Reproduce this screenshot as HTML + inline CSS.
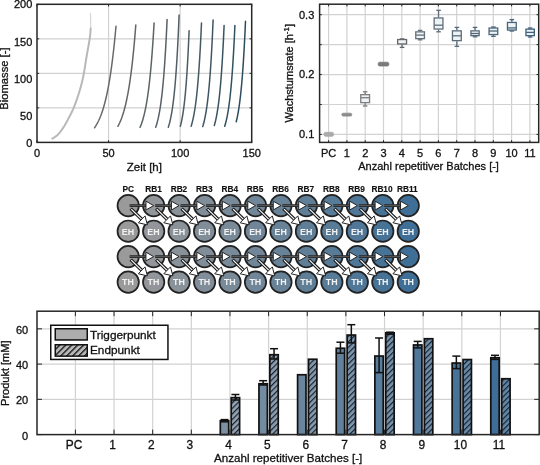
<!DOCTYPE html>
<html><head><meta charset="utf-8"><style>
html,body{margin:0;padding:0;background:#fff;}
svg{display:block;font-family:"Liberation Sans", sans-serif;filter:blur(0.3px);}
</style></head><body>
<svg width="540" height="465" viewBox="0 0 540 465">
<defs><pattern id="h4" patternUnits="userSpaceOnUse" width="3.9" height="3.9" patternTransform="rotate(45)"><rect width="3.9" height="3.9" fill="#94a4b3"/><line x1="0" y1="-1" x2="0" y2="5" stroke="#1a2028" stroke-width="2.4"/></pattern><pattern id="h5" patternUnits="userSpaceOnUse" width="3.9" height="3.9" patternTransform="rotate(45)"><rect width="3.9" height="3.9" fill="#8ca0b2"/><line x1="0" y1="-1" x2="0" y2="5" stroke="#1a2028" stroke-width="2.4"/></pattern><pattern id="h6" patternUnits="userSpaceOnUse" width="3.9" height="3.9" patternTransform="rotate(45)"><rect width="3.9" height="3.9" fill="#859cb0"/><line x1="0" y1="-1" x2="0" y2="5" stroke="#1a2028" stroke-width="2.4"/></pattern><pattern id="h7" patternUnits="userSpaceOnUse" width="3.9" height="3.9" patternTransform="rotate(45)"><rect width="3.9" height="3.9" fill="#7d98af"/><line x1="0" y1="-1" x2="0" y2="5" stroke="#1a2028" stroke-width="2.4"/></pattern><pattern id="h8" patternUnits="userSpaceOnUse" width="3.9" height="3.9" patternTransform="rotate(45)"><rect width="3.9" height="3.9" fill="#7794ae"/><line x1="0" y1="-1" x2="0" y2="5" stroke="#1a2028" stroke-width="2.4"/></pattern><pattern id="h9" patternUnits="userSpaceOnUse" width="3.9" height="3.9" patternTransform="rotate(45)"><rect width="3.9" height="3.9" fill="#7090ad"/><line x1="0" y1="-1" x2="0" y2="5" stroke="#1a2028" stroke-width="2.4"/></pattern><pattern id="h10" patternUnits="userSpaceOnUse" width="3.9" height="3.9" patternTransform="rotate(45)"><rect width="3.9" height="3.9" fill="#688cab"/><line x1="0" y1="-1" x2="0" y2="5" stroke="#1a2028" stroke-width="2.4"/></pattern><pattern id="h11" patternUnits="userSpaceOnUse" width="3.9" height="3.9" patternTransform="rotate(45)"><rect width="3.9" height="3.9" fill="#6188ab"/><line x1="0" y1="-1" x2="0" y2="5" stroke="#1a2028" stroke-width="2.4"/></pattern></defs>
<rect width="540" height="465" fill="#fff"/>
<line x1="108.57" y1="4.3" x2="108.57" y2="142.4" stroke="#d2d2d2" stroke-width="1.2"/>
<line x1="180.13" y1="4.3" x2="180.13" y2="142.4" stroke="#d2d2d2" stroke-width="1.2"/>
<line x1="37" y1="107.88" x2="251.7" y2="107.88" stroke="#d2d2d2" stroke-width="1.2"/>
<line x1="37" y1="73.35" x2="251.7" y2="73.35" stroke="#d2d2d2" stroke-width="1.2"/>
<line x1="37" y1="38.83" x2="251.7" y2="38.83" stroke="#d2d2d2" stroke-width="1.2"/>
<polyline fill="none" stroke="#d6d6d6" stroke-width="1.2" points="90.7,28.4 90.5,13"/>
<polyline fill="none" stroke="#b8b8b8" stroke-width="2" stroke-linecap="round" points="52.3,138.7 52.74,138.4 53.32,138.03 54.01,137.6 54.77,137.1 55.59,136.54 56.42,135.92 57.23,135.24 58,134.5 58.74,133.69 59.5,132.79 60.27,131.82 61.04,130.8 61.81,129.74 62.56,128.66 63.3,127.57 64,126.5 64.68,125.43 65.33,124.33 65.97,123.22 66.59,122.09 67.2,120.96 67.8,119.81 68.4,118.66 69,117.5 69.6,116.35 70.18,115.22 70.76,114.08 71.34,112.94 71.91,111.77 72.47,110.56 73.04,109.31 73.6,108 74.17,106.62 74.74,105.18 75.3,103.68 75.87,102.16 76.42,100.61 76.97,99.06 77.49,97.52 78,96 78.49,94.49 78.96,92.97 79.43,91.45 79.87,89.92 80.31,88.41 80.72,86.92 81.12,85.44 81.5,84 81.85,82.63 82.17,81.34 82.47,80.1 82.76,78.86 83.03,77.59 83.31,76.25 83.6,74.8 83.9,73.2 84.21,71.45 84.52,69.58 84.83,67.61 85.15,65.57 85.47,63.47 85.8,61.32 86.14,59.16 86.5,57 86.89,54.76 87.31,52.39 87.75,49.94 88.2,47.48 88.63,45.07 89.04,42.76 89.4,40.62 89.7,38.7 89.94,36.96 90.13,35.32 90.28,33.8 90.4,32.41 90.49,31.16 90.57,30.06 90.64,29.14 90.7,28.4"/>
<polyline fill="none" stroke="#696969" stroke-width="1.5" stroke-linecap="round" points="94.5,127.8 95.22,126.75 95.93,125.63 96.65,124.43 97.37,123.15 98.08,121.77 98.8,120.29 99.52,118.71 100.23,117.01 100.95,115.2 101.67,113.25 102.38,111.16 103.1,108.93 103.82,106.53 104.53,103.96 105.25,101.21 105.97,98.26 106.68,95.1 107.4,91.72 108.12,88.09 108.83,84.2 109.55,80.03 110.27,75.57 110.98,70.78 111.7,65.66 112.42,60.16 113.13,54.28 113.85,47.97 114.57,41.21 115.28,33.96 116,26.2"/>
<polyline fill="none" stroke="#636668" stroke-width="1.5" stroke-linecap="round" points="117.9,126.3 118.5,125.2 119.09,124.02 119.69,122.76 120.29,121.42 120.88,119.98 121.48,118.45 122.08,116.81 122.67,115.06 123.27,113.19 123.87,111.19 124.46,109.05 125.06,106.77 125.66,104.33 126.25,101.73 126.85,98.94 127.45,95.97 128.04,92.79 128.64,89.4 129.24,85.77 129.83,81.89 130.43,77.75 131.03,73.33 131.62,68.6 132.22,63.55 132.82,58.15 133.41,52.39 134.01,46.23 134.61,39.65 135.2,32.61 135.8,25.1"/>
<polyline fill="none" stroke="#5d6467" stroke-width="1.5" stroke-linecap="round" points="140,127.4 140.47,126.33 140.94,125.17 141.41,123.94 141.88,122.62 142.35,121.2 142.82,119.68 143.29,118.06 143.76,116.31 144.23,114.44 144.7,112.44 145.17,110.3 145.64,108 146.11,105.53 146.58,102.89 147.05,100.06 147.52,97.03 147.99,93.78 148.46,90.3 148.93,86.57 149.4,82.57 149.87,78.28 150.34,73.69 150.81,68.77 151.28,63.49 151.75,57.84 152.22,51.79 152.69,45.3 153.16,38.34 153.63,30.89 154.1,22.9"/>
<polyline fill="none" stroke="#576166" stroke-width="1.5" stroke-linecap="round" points="155.7,127.2 156.08,126.1 156.46,124.93 156.84,123.67 157.22,122.32 157.6,120.87 157.98,119.32 158.36,117.65 158.74,115.87 159.12,113.95 159.5,111.9 159.88,109.7 160.26,107.34 160.64,104.81 161.02,102.1 161.4,99.2 161.78,96.08 162.16,92.74 162.54,89.16 162.92,85.32 163.3,81.2 163.68,76.79 164.06,72.05 164.44,66.98 164.82,61.54 165.2,55.71 165.58,49.46 165.96,42.75 166.34,35.57 166.72,27.86 167.1,19.6"/>
<polyline fill="none" stroke="#515e65" stroke-width="1.5" stroke-linecap="round" points="168.3,127.2 168.66,126.08 169.02,124.89 169.38,123.6 169.74,122.22 170.1,120.74 170.46,119.15 170.82,117.44 171.18,115.61 171.54,113.64 171.9,111.53 172.26,109.27 172.62,106.83 172.98,104.22 173.34,101.42 173.7,98.41 174.06,95.18 174.42,91.72 174.78,88 175.14,84 175.5,79.71 175.86,75.11 176.22,70.17 176.58,64.87 176.94,59.18 177.3,53.07 177.66,46.51 178.02,39.47 178.38,31.92 178.74,23.81 179.1,15.1"/>
<polyline fill="none" stroke="#4b5c64" stroke-width="1.5" stroke-linecap="round" points="180.3,126.3 180.59,125.23 180.89,124.08 181.18,122.86 181.47,121.56 181.77,120.17 182.06,118.68 182.35,117.1 182.65,115.41 182.94,113.61 183.23,111.69 183.53,109.65 183.82,107.46 184.11,105.13 184.41,102.64 184.7,99.99 184.99,97.16 185.29,94.15 185.58,90.93 185.87,87.5 186.17,83.83 186.46,79.93 186.75,75.76 187.05,71.32 187.34,66.58 187.63,61.52 187.93,56.12 188.22,50.37 188.51,44.23 188.81,37.68 189.1,30.7"/>
<polyline fill="none" stroke="#455963" stroke-width="1.5" stroke-linecap="round" points="191.1,126.3 191.45,125.19 191.79,124 192.14,122.73 192.49,121.37 192.83,119.91 193.18,118.36 193.53,116.7 193.87,114.92 194.22,113.02 194.57,110.99 194.91,108.82 195.26,106.5 195.61,104.02 195.95,101.37 196.3,98.54 196.65,95.51 196.99,92.27 197.34,88.8 197.69,85.1 198.03,81.14 198.38,76.91 198.73,72.38 199.07,67.54 199.42,62.37 199.77,56.84 200.11,50.93 200.46,44.61 200.81,37.85 201.15,30.62 201.5,22.9"/>
<polyline fill="none" stroke="#3f5662" stroke-width="1.5" stroke-linecap="round" points="202.7,126.6 203.05,125.48 203.39,124.29 203.74,123.01 204.09,121.64 204.43,120.18 204.78,118.61 205.13,116.93 205.47,115.13 205.82,113.21 206.17,111.15 206.51,108.94 206.86,106.58 207.21,104.05 207.55,101.34 207.9,98.44 208.25,95.34 208.59,92.02 208.94,88.46 209.29,84.65 209.63,80.57 209.98,76.21 210.33,71.54 210.67,66.53 211.02,61.18 211.37,55.44 211.71,49.31 212.06,42.73 212.41,35.7 212.75,28.16 213.1,20.1"/>
<polyline fill="none" stroke="#395361" stroke-width="1.5" stroke-linecap="round" points="214.3,125.5 214.63,124.37 214.95,123.17 215.28,121.89 215.61,120.53 215.93,119.07 216.26,117.52 216.59,115.86 216.91,114.09 217.24,112.21 217.57,110.2 217.89,108.06 218.22,105.77 218.55,103.33 218.87,100.73 219.2,97.95 219.53,94.99 219.85,91.84 220.18,88.47 220.51,84.88 220.83,81.05 221.16,76.96 221.49,72.6 221.81,67.96 222.14,63 222.47,57.71 222.79,52.07 223.12,46.06 223.45,39.64 223.77,32.8 224.1,25.5"/>
<polyline fill="none" stroke="#335160" stroke-width="1.5" stroke-linecap="round" points="224.7,126.3 225.04,125.2 225.38,124.03 225.72,122.77 226.06,121.43 226.4,120 226.74,118.47 227.08,116.83 227.42,115.08 227.76,113.22 228.1,111.22 228.44,109.09 228.78,106.82 229.12,104.39 229.46,101.79 229.8,99.02 230.14,96.05 230.48,92.89 230.82,89.5 231.16,85.89 231.5,82.03 231.84,77.91 232.18,73.5 232.52,68.79 232.86,63.76 233.2,58.39 233.54,52.65 233.88,46.52 234.22,39.97 234.56,32.98 234.9,25.5"/>
<polyline fill="none" stroke="#2d4e5f" stroke-width="1.5" stroke-linecap="round" points="236.2,121.8 236.51,120.55 236.82,119.22 237.13,117.81 237.44,116.31 237.75,114.72 238.06,113.04 238.37,111.25 238.68,109.36 238.99,107.34 239.3,105.21 239.61,102.95 239.92,100.55 240.23,98 240.54,95.3 240.85,92.43 241.16,89.39 241.47,86.17 241.78,82.74 242.09,79.11 242.4,75.26 242.71,71.18 243.02,66.84 243.33,62.25 243.64,57.37 243.95,52.2 244.26,46.71 244.57,40.88 244.88,34.71 245.19,28.15 245.5,21.2"/>
<line x1="37" y1="142.4" x2="37" y2="140.2" stroke="#262626" stroke-width="1"/>
<line x1="37" y1="4.3" x2="37" y2="6.5" stroke="#262626" stroke-width="1"/>
<line x1="108.57" y1="142.4" x2="108.57" y2="140.2" stroke="#262626" stroke-width="1"/>
<line x1="108.57" y1="4.3" x2="108.57" y2="6.5" stroke="#262626" stroke-width="1"/>
<line x1="180.13" y1="142.4" x2="180.13" y2="140.2" stroke="#262626" stroke-width="1"/>
<line x1="180.13" y1="4.3" x2="180.13" y2="6.5" stroke="#262626" stroke-width="1"/>
<line x1="251.7" y1="142.4" x2="251.7" y2="140.2" stroke="#262626" stroke-width="1"/>
<line x1="251.7" y1="4.3" x2="251.7" y2="6.5" stroke="#262626" stroke-width="1"/>
<line x1="37" y1="142.4" x2="39.2" y2="142.4" stroke="#262626" stroke-width="1"/>
<line x1="251.7" y1="142.4" x2="249.5" y2="142.4" stroke="#262626" stroke-width="1"/>
<line x1="37" y1="107.88" x2="39.2" y2="107.88" stroke="#262626" stroke-width="1"/>
<line x1="251.7" y1="107.88" x2="249.5" y2="107.88" stroke="#262626" stroke-width="1"/>
<line x1="37" y1="73.35" x2="39.2" y2="73.35" stroke="#262626" stroke-width="1"/>
<line x1="251.7" y1="73.35" x2="249.5" y2="73.35" stroke="#262626" stroke-width="1"/>
<line x1="37" y1="38.83" x2="39.2" y2="38.83" stroke="#262626" stroke-width="1"/>
<line x1="251.7" y1="38.83" x2="249.5" y2="38.83" stroke="#262626" stroke-width="1"/>
<line x1="37" y1="4.3" x2="39.2" y2="4.3" stroke="#262626" stroke-width="1"/>
<line x1="251.7" y1="4.3" x2="249.5" y2="4.3" stroke="#262626" stroke-width="1"/>
<rect x="37" y="4.3" width="214.7" height="138.1" fill="none" stroke="#262626" stroke-width="1.5"/>
<text x="32.3" y="147" font-size="11" text-anchor="end" font-weight="normal" fill="#111" stroke="#111" stroke-width="0.3" >0</text>
<text x="32.3" y="119.8" font-size="11" text-anchor="end" font-weight="normal" fill="#111" stroke="#111" stroke-width="0.3" >50</text>
<text x="32.3" y="82.6" font-size="11" text-anchor="end" font-weight="normal" fill="#111" stroke="#111" stroke-width="0.3" >100</text>
<text x="32.3" y="45.5" font-size="11" text-anchor="end" font-weight="normal" fill="#111" stroke="#111" stroke-width="0.3" >150</text>
<text x="32.3" y="7.9" font-size="11" text-anchor="end" font-weight="normal" fill="#111" stroke="#111" stroke-width="0.3" >200</text>
<text x="37" y="157" font-size="11" text-anchor="middle" font-weight="normal" fill="#111" stroke="#111" stroke-width="0.3" >0</text>
<text x="108.57" y="157" font-size="11" text-anchor="middle" font-weight="normal" fill="#111" stroke="#111" stroke-width="0.3" >50</text>
<text x="180.13" y="157" font-size="11" text-anchor="middle" font-weight="normal" fill="#111" stroke="#111" stroke-width="0.3" >100</text>
<text x="251.7" y="157" font-size="11" text-anchor="middle" font-weight="normal" fill="#111" stroke="#111" stroke-width="0.3" >150</text>
<text x="144.4" y="170.6" font-size="11.5" text-anchor="middle" font-weight="normal" fill="#111" stroke="#111" stroke-width="0.3" >Zeit [h]</text>
<text transform="translate(8.3,78.6) rotate(-90)" font-size="11.2" text-anchor="middle" fill="#111" stroke="#111" stroke-width="0.3">Biomasse [-]</text>
<line x1="328.6" y1="4.2" x2="328.6" y2="142.4" stroke="#d2d2d2" stroke-width="1.2"/>
<line x1="346.9" y1="4.2" x2="346.9" y2="142.4" stroke="#d2d2d2" stroke-width="1.2"/>
<line x1="365.2" y1="4.2" x2="365.2" y2="142.4" stroke="#d2d2d2" stroke-width="1.2"/>
<line x1="383.5" y1="4.2" x2="383.5" y2="142.4" stroke="#d2d2d2" stroke-width="1.2"/>
<line x1="401.8" y1="4.2" x2="401.8" y2="142.4" stroke="#d2d2d2" stroke-width="1.2"/>
<line x1="420.1" y1="4.2" x2="420.1" y2="142.4" stroke="#d2d2d2" stroke-width="1.2"/>
<line x1="438.4" y1="4.2" x2="438.4" y2="142.4" stroke="#d2d2d2" stroke-width="1.2"/>
<line x1="456.7" y1="4.2" x2="456.7" y2="142.4" stroke="#d2d2d2" stroke-width="1.2"/>
<line x1="475" y1="4.2" x2="475" y2="142.4" stroke="#d2d2d2" stroke-width="1.2"/>
<line x1="493.3" y1="4.2" x2="493.3" y2="142.4" stroke="#d2d2d2" stroke-width="1.2"/>
<line x1="511.6" y1="4.2" x2="511.6" y2="142.4" stroke="#d2d2d2" stroke-width="1.2"/>
<line x1="529.9" y1="4.2" x2="529.9" y2="142.4" stroke="#d2d2d2" stroke-width="1.2"/>
<line x1="319.6" y1="134.4" x2="538.7" y2="134.4" stroke="#d2d2d2" stroke-width="1.2"/>
<line x1="319.6" y1="104.48" x2="538.7" y2="104.48" stroke="#d2d2d2" stroke-width="1.2"/>
<line x1="319.6" y1="74.55" x2="538.7" y2="74.55" stroke="#d2d2d2" stroke-width="1.2"/>
<line x1="319.6" y1="44.63" x2="538.7" y2="44.63" stroke="#d2d2d2" stroke-width="1.2"/>
<line x1="319.6" y1="14.7" x2="538.7" y2="14.7" stroke="#d2d2d2" stroke-width="1.2"/>
<rect x="324" y="132.3" width="9.5" height="4" rx="1.5" fill="#aaaaaa" stroke="#aaaaaa" stroke-width="0.8"/>
<rect x="341.8" y="113.2" width="10" height="2.9" rx="1.5" fill="#8c8c8c" stroke="#8c8c8c" stroke-width="0.8"/>
<line x1="365.15" y1="91.8" x2="365.15" y2="94" stroke="#7d7d7d" stroke-width="1.3"/>
<line x1="365.15" y1="103.3" x2="365.15" y2="106" stroke="#7d7d7d" stroke-width="1.3"/>
<line x1="362.85" y1="91.8" x2="367.45" y2="91.8" stroke="#7d7d7d" stroke-width="1.3"/>
<line x1="362.85" y1="106" x2="367.45" y2="106" stroke="#7d7d7d" stroke-width="1.3"/>
<rect x="360.75" y="94.65" width="8.8" height="8" fill="#eef3f6" stroke="#7d7d7d" stroke-width="1.3"/>
<line x1="360.75" y1="97.7" x2="369.55" y2="97.7" stroke="#7d7d7d" stroke-width="1.3"/>
<rect x="378.2" y="62.2" width="10.6" height="3.8" rx="1.5" fill="#7a7a7a" stroke="#7a7a7a" stroke-width="0.8"/>
<line x1="402.1" y1="38.9" x2="402.1" y2="38.9" stroke="#63676b" stroke-width="1.3"/>
<line x1="402.1" y1="44.6" x2="402.1" y2="47.4" stroke="#63676b" stroke-width="1.3"/>
<line x1="399.8" y1="38.9" x2="404.4" y2="38.9" stroke="#63676b" stroke-width="1.3"/>
<line x1="399.8" y1="47.4" x2="404.4" y2="47.4" stroke="#63676b" stroke-width="1.3"/>
<rect x="397.65" y="39.55" width="8.9" height="4.4" fill="#eef3f6" stroke="#63676b" stroke-width="1.3"/>
<line x1="420.1" y1="30.4" x2="420.1" y2="31.2" stroke="#66717a" stroke-width="1.3"/>
<line x1="420.1" y1="39.3" x2="420.1" y2="39.8" stroke="#66717a" stroke-width="1.3"/>
<line x1="417.8" y1="30.4" x2="422.4" y2="30.4" stroke="#66717a" stroke-width="1.3"/>
<line x1="417.8" y1="39.8" x2="422.4" y2="39.8" stroke="#66717a" stroke-width="1.3"/>
<rect x="415.75" y="31.85" width="8.7" height="6.8" fill="#eef3f6" stroke="#66717a" stroke-width="1.3"/>
<line x1="415.75" y1="35.1" x2="424.45" y2="35.1" stroke="#66717a" stroke-width="1.3"/>
<line x1="438.55" y1="10.3" x2="438.55" y2="17.3" stroke="#5f6e7a" stroke-width="1.3"/>
<line x1="438.55" y1="29.7" x2="438.55" y2="31.8" stroke="#5f6e7a" stroke-width="1.3"/>
<line x1="436.25" y1="10.3" x2="440.85" y2="10.3" stroke="#5f6e7a" stroke-width="1.3"/>
<line x1="436.25" y1="31.8" x2="440.85" y2="31.8" stroke="#5f6e7a" stroke-width="1.3"/>
<rect x="434.15" y="17.95" width="8.8" height="11.1" fill="#eef3f6" stroke="#5f6e7a" stroke-width="1.3"/>
<line x1="434.15" y1="25.2" x2="442.95" y2="25.2" stroke="#5f6e7a" stroke-width="1.3"/>
<line x1="456.85" y1="27.4" x2="456.85" y2="30.2" stroke="#5a6b79" stroke-width="1.3"/>
<line x1="456.85" y1="41.3" x2="456.85" y2="46.4" stroke="#5a6b79" stroke-width="1.3"/>
<line x1="454.55" y1="27.4" x2="459.15" y2="27.4" stroke="#5a6b79" stroke-width="1.3"/>
<line x1="454.55" y1="46.4" x2="459.15" y2="46.4" stroke="#5a6b79" stroke-width="1.3"/>
<rect x="452.45" y="30.85" width="8.8" height="9.8" fill="#eef3f6" stroke="#5a6b79" stroke-width="1.3"/>
<line x1="452.45" y1="35.8" x2="461.25" y2="35.8" stroke="#5a6b79" stroke-width="1.3"/>
<line x1="475.05" y1="27.4" x2="475.05" y2="30.2" stroke="#55697a" stroke-width="1.3"/>
<line x1="475.05" y1="36.3" x2="475.05" y2="36.8" stroke="#55697a" stroke-width="1.3"/>
<line x1="472.75" y1="27.4" x2="477.35" y2="27.4" stroke="#55697a" stroke-width="1.3"/>
<line x1="472.75" y1="36.8" x2="477.35" y2="36.8" stroke="#55697a" stroke-width="1.3"/>
<rect x="470.95" y="30.85" width="8.2" height="4.8" fill="#eef3f6" stroke="#55697a" stroke-width="1.3"/>
<line x1="470.95" y1="33.5" x2="479.15" y2="33.5" stroke="#55697a" stroke-width="1.3"/>
<line x1="493.4" y1="27" x2="493.4" y2="27.4" stroke="#4d667a" stroke-width="1.3"/>
<line x1="493.4" y1="35.2" x2="493.4" y2="36.3" stroke="#4d667a" stroke-width="1.3"/>
<line x1="491.1" y1="27" x2="495.7" y2="27" stroke="#4d667a" stroke-width="1.3"/>
<line x1="491.1" y1="36.3" x2="495.7" y2="36.3" stroke="#4d667a" stroke-width="1.3"/>
<rect x="489.05" y="28.05" width="8.7" height="6.5" fill="#eef3f6" stroke="#4d667a" stroke-width="1.3"/>
<line x1="489.05" y1="31" x2="497.75" y2="31" stroke="#4d667a" stroke-width="1.3"/>
<line x1="511.85" y1="19.6" x2="511.85" y2="21.8" stroke="#48647a" stroke-width="1.3"/>
<line x1="511.85" y1="30.7" x2="511.85" y2="31" stroke="#48647a" stroke-width="1.3"/>
<line x1="509.55" y1="19.6" x2="514.15" y2="19.6" stroke="#48647a" stroke-width="1.3"/>
<line x1="509.55" y1="31" x2="514.15" y2="31" stroke="#48647a" stroke-width="1.3"/>
<rect x="507.45" y="22.45" width="8.8" height="7.6" fill="#eef3f6" stroke="#48647a" stroke-width="1.3"/>
<line x1="507.45" y1="27.9" x2="516.25" y2="27.9" stroke="#48647a" stroke-width="1.3"/>
<line x1="530.15" y1="28" x2="530.15" y2="28.5" stroke="#42617a" stroke-width="1.3"/>
<line x1="530.15" y1="36.3" x2="530.15" y2="37" stroke="#42617a" stroke-width="1.3"/>
<line x1="527.85" y1="28" x2="532.45" y2="28" stroke="#42617a" stroke-width="1.3"/>
<line x1="527.85" y1="37" x2="532.45" y2="37" stroke="#42617a" stroke-width="1.3"/>
<rect x="525.95" y="29.15" width="8.4" height="6.5" fill="#eef3f6" stroke="#42617a" stroke-width="1.3"/>
<line x1="525.95" y1="32.4" x2="534.35" y2="32.4" stroke="#42617a" stroke-width="1.3"/>
<line x1="328.6" y1="142.4" x2="328.6" y2="140.2" stroke="#262626" stroke-width="1"/>
<line x1="328.6" y1="4.2" x2="328.6" y2="6.4" stroke="#262626" stroke-width="1"/>
<line x1="346.9" y1="142.4" x2="346.9" y2="140.2" stroke="#262626" stroke-width="1"/>
<line x1="346.9" y1="4.2" x2="346.9" y2="6.4" stroke="#262626" stroke-width="1"/>
<line x1="365.2" y1="142.4" x2="365.2" y2="140.2" stroke="#262626" stroke-width="1"/>
<line x1="365.2" y1="4.2" x2="365.2" y2="6.4" stroke="#262626" stroke-width="1"/>
<line x1="383.5" y1="142.4" x2="383.5" y2="140.2" stroke="#262626" stroke-width="1"/>
<line x1="383.5" y1="4.2" x2="383.5" y2="6.4" stroke="#262626" stroke-width="1"/>
<line x1="401.8" y1="142.4" x2="401.8" y2="140.2" stroke="#262626" stroke-width="1"/>
<line x1="401.8" y1="4.2" x2="401.8" y2="6.4" stroke="#262626" stroke-width="1"/>
<line x1="420.1" y1="142.4" x2="420.1" y2="140.2" stroke="#262626" stroke-width="1"/>
<line x1="420.1" y1="4.2" x2="420.1" y2="6.4" stroke="#262626" stroke-width="1"/>
<line x1="438.4" y1="142.4" x2="438.4" y2="140.2" stroke="#262626" stroke-width="1"/>
<line x1="438.4" y1="4.2" x2="438.4" y2="6.4" stroke="#262626" stroke-width="1"/>
<line x1="456.7" y1="142.4" x2="456.7" y2="140.2" stroke="#262626" stroke-width="1"/>
<line x1="456.7" y1="4.2" x2="456.7" y2="6.4" stroke="#262626" stroke-width="1"/>
<line x1="475" y1="142.4" x2="475" y2="140.2" stroke="#262626" stroke-width="1"/>
<line x1="475" y1="4.2" x2="475" y2="6.4" stroke="#262626" stroke-width="1"/>
<line x1="493.3" y1="142.4" x2="493.3" y2="140.2" stroke="#262626" stroke-width="1"/>
<line x1="493.3" y1="4.2" x2="493.3" y2="6.4" stroke="#262626" stroke-width="1"/>
<line x1="511.6" y1="142.4" x2="511.6" y2="140.2" stroke="#262626" stroke-width="1"/>
<line x1="511.6" y1="4.2" x2="511.6" y2="6.4" stroke="#262626" stroke-width="1"/>
<line x1="529.9" y1="142.4" x2="529.9" y2="140.2" stroke="#262626" stroke-width="1"/>
<line x1="529.9" y1="4.2" x2="529.9" y2="6.4" stroke="#262626" stroke-width="1"/>
<line x1="319.6" y1="134.4" x2="321.8" y2="134.4" stroke="#262626" stroke-width="1"/>
<line x1="538.7" y1="134.4" x2="536.5" y2="134.4" stroke="#262626" stroke-width="1"/>
<line x1="319.6" y1="104.48" x2="321.8" y2="104.48" stroke="#262626" stroke-width="1"/>
<line x1="538.7" y1="104.48" x2="536.5" y2="104.48" stroke="#262626" stroke-width="1"/>
<line x1="319.6" y1="74.55" x2="321.8" y2="74.55" stroke="#262626" stroke-width="1"/>
<line x1="538.7" y1="74.55" x2="536.5" y2="74.55" stroke="#262626" stroke-width="1"/>
<line x1="319.6" y1="44.63" x2="321.8" y2="44.63" stroke="#262626" stroke-width="1"/>
<line x1="538.7" y1="44.63" x2="536.5" y2="44.63" stroke="#262626" stroke-width="1"/>
<line x1="319.6" y1="14.7" x2="321.8" y2="14.7" stroke="#262626" stroke-width="1"/>
<line x1="538.7" y1="14.7" x2="536.5" y2="14.7" stroke="#262626" stroke-width="1"/>
<rect x="319.6" y="4.2" width="219.1" height="138.2" fill="none" stroke="#262626" stroke-width="1.5"/>
<text x="314.3" y="138.3" font-size="11" text-anchor="end" font-weight="normal" fill="#111" stroke="#111" stroke-width="0.3" >0.1</text>
<text x="314.3" y="78.45" font-size="11" text-anchor="end" font-weight="normal" fill="#111" stroke="#111" stroke-width="0.3" >0.2</text>
<text x="314.3" y="18.6" font-size="11" text-anchor="end" font-weight="normal" fill="#111" stroke="#111" stroke-width="0.3" >0.3</text>
<text x="328.6" y="157" font-size="11" text-anchor="middle" font-weight="normal" fill="#111" stroke="#111" stroke-width="0.3" >PC</text>
<text x="346.9" y="157" font-size="11" text-anchor="middle" font-weight="normal" fill="#111" stroke="#111" stroke-width="0.3" >1</text>
<text x="365.2" y="157" font-size="11" text-anchor="middle" font-weight="normal" fill="#111" stroke="#111" stroke-width="0.3" >2</text>
<text x="383.5" y="157" font-size="11" text-anchor="middle" font-weight="normal" fill="#111" stroke="#111" stroke-width="0.3" >3</text>
<text x="401.8" y="157" font-size="11" text-anchor="middle" font-weight="normal" fill="#111" stroke="#111" stroke-width="0.3" >4</text>
<text x="420.1" y="157" font-size="11" text-anchor="middle" font-weight="normal" fill="#111" stroke="#111" stroke-width="0.3" >5</text>
<text x="438.4" y="157" font-size="11" text-anchor="middle" font-weight="normal" fill="#111" stroke="#111" stroke-width="0.3" >6</text>
<text x="456.7" y="157" font-size="11" text-anchor="middle" font-weight="normal" fill="#111" stroke="#111" stroke-width="0.3" >7</text>
<text x="475" y="157" font-size="11" text-anchor="middle" font-weight="normal" fill="#111" stroke="#111" stroke-width="0.3" >8</text>
<text x="493.3" y="157" font-size="11" text-anchor="middle" font-weight="normal" fill="#111" stroke="#111" stroke-width="0.3" >9</text>
<text x="511.6" y="157" font-size="11" text-anchor="middle" font-weight="normal" fill="#111" stroke="#111" stroke-width="0.3" >10</text>
<text x="529.9" y="157" font-size="11" text-anchor="middle" font-weight="normal" fill="#111" stroke="#111" stroke-width="0.3" >11</text>
<text x="428.6" y="170" font-size="11" text-anchor="middle" font-weight="normal" fill="#111" stroke="#111" stroke-width="0.3" >Anzahl repetitiver Batches [-]</text>
<text transform="translate(293,73.2) rotate(-90)" font-size="11" text-anchor="middle" fill="#111" stroke="#111" stroke-width="0.3">Wachstumsrate [h<tspan font-size="8" dy="-4.2">-1</tspan><tspan dy="4.2">]</tspan></text>
<text x="128.2" y="191.5" font-size="8.3" text-anchor="middle" font-weight="bold" fill="#111" stroke="#111" stroke-width="0.15" >PC</text>
<text x="153.58" y="191.5" font-size="8.3" text-anchor="middle" font-weight="bold" fill="#111" stroke="#111" stroke-width="0.15" >RB1</text>
<text x="178.96" y="191.5" font-size="8.3" text-anchor="middle" font-weight="bold" fill="#111" stroke="#111" stroke-width="0.15" >RB2</text>
<text x="204.34" y="191.5" font-size="8.3" text-anchor="middle" font-weight="bold" fill="#111" stroke="#111" stroke-width="0.15" >RB3</text>
<text x="229.72" y="191.5" font-size="8.3" text-anchor="middle" font-weight="bold" fill="#111" stroke="#111" stroke-width="0.15" >RB4</text>
<text x="255.1" y="191.5" font-size="8.3" text-anchor="middle" font-weight="bold" fill="#111" stroke="#111" stroke-width="0.15" >RB5</text>
<text x="280.48" y="191.5" font-size="8.3" text-anchor="middle" font-weight="bold" fill="#111" stroke="#111" stroke-width="0.15" >RB6</text>
<text x="305.86" y="191.5" font-size="8.3" text-anchor="middle" font-weight="bold" fill="#111" stroke="#111" stroke-width="0.15" >RB7</text>
<text x="331.24" y="191.5" font-size="8.3" text-anchor="middle" font-weight="bold" fill="#111" stroke="#111" stroke-width="0.15" >RB8</text>
<text x="356.62" y="191.5" font-size="8.3" text-anchor="middle" font-weight="bold" fill="#111" stroke="#111" stroke-width="0.15" >RB9</text>
<text x="382" y="191.5" font-size="8.3" text-anchor="middle" font-weight="bold" fill="#111" stroke="#111" stroke-width="0.15" >RB10</text>
<text x="407.38" y="191.5" font-size="8.3" text-anchor="middle" font-weight="bold" fill="#111" stroke="#111" stroke-width="0.15" >RB11</text>
<circle cx="128.2" cy="205.6" r="10.7" fill="#9a9a9a" stroke="#222" stroke-width="1.7"/>
<circle cx="153.66" cy="205.6" r="10.7" fill="#92969a" stroke="#222" stroke-width="1.7"/>
<circle cx="179.12" cy="205.6" r="10.7" fill="#899299" stroke="#222" stroke-width="1.7"/>
<circle cx="204.58" cy="205.6" r="10.7" fill="#818e99" stroke="#222" stroke-width="1.7"/>
<circle cx="230.04" cy="205.6" r="10.7" fill="#798a99" stroke="#222" stroke-width="1.7"/>
<circle cx="255.5" cy="205.6" r="10.7" fill="#718698" stroke="#222" stroke-width="1.7"/>
<circle cx="280.96" cy="205.6" r="10.7" fill="#688398" stroke="#222" stroke-width="1.7"/>
<circle cx="306.42" cy="205.6" r="10.7" fill="#607f97" stroke="#222" stroke-width="1.7"/>
<circle cx="331.88" cy="205.6" r="10.7" fill="#587b97" stroke="#222" stroke-width="1.7"/>
<circle cx="357.34" cy="205.6" r="10.7" fill="#507797" stroke="#222" stroke-width="1.7"/>
<circle cx="382.8" cy="205.6" r="10.7" fill="#477396" stroke="#222" stroke-width="1.7"/>
<circle cx="408.26" cy="205.6" r="10.7" fill="#3f6f96" stroke="#222" stroke-width="1.7"/>
<circle cx="128.2" cy="231.2" r="10.7" fill="#9a9a9a" stroke="#222" stroke-width="1.7"/>
<text x="128" y="234.5" font-size="8.9" text-anchor="middle" font-weight="bold" fill="#f2f2f2" stroke="#f2f2f2" stroke-width="0.15" stroke-opacity="0">EH</text>
<circle cx="153.66" cy="231.2" r="10.7" fill="#92969a" stroke="#222" stroke-width="1.7"/>
<text x="153.46" y="234.5" font-size="8.9" text-anchor="middle" font-weight="bold" fill="#f2f2f2" stroke="#f2f2f2" stroke-width="0.15" stroke-opacity="0">EH</text>
<circle cx="179.12" cy="231.2" r="10.7" fill="#899299" stroke="#222" stroke-width="1.7"/>
<text x="178.92" y="234.5" font-size="8.9" text-anchor="middle" font-weight="bold" fill="#f2f2f2" stroke="#f2f2f2" stroke-width="0.15" stroke-opacity="0">EH</text>
<circle cx="204.58" cy="231.2" r="10.7" fill="#818e99" stroke="#222" stroke-width="1.7"/>
<text x="204.38" y="234.5" font-size="8.9" text-anchor="middle" font-weight="bold" fill="#f2f2f2" stroke="#f2f2f2" stroke-width="0.15" stroke-opacity="0">EH</text>
<circle cx="230.04" cy="231.2" r="10.7" fill="#798a99" stroke="#222" stroke-width="1.7"/>
<text x="229.84" y="234.5" font-size="8.9" text-anchor="middle" font-weight="bold" fill="#f2f2f2" stroke="#f2f2f2" stroke-width="0.15" stroke-opacity="0">EH</text>
<circle cx="255.5" cy="231.2" r="10.7" fill="#718698" stroke="#222" stroke-width="1.7"/>
<text x="255.3" y="234.5" font-size="8.9" text-anchor="middle" font-weight="bold" fill="#f2f2f2" stroke="#f2f2f2" stroke-width="0.15" stroke-opacity="0">EH</text>
<circle cx="280.96" cy="231.2" r="10.7" fill="#688398" stroke="#222" stroke-width="1.7"/>
<text x="280.76" y="234.5" font-size="8.9" text-anchor="middle" font-weight="bold" fill="#f2f2f2" stroke="#f2f2f2" stroke-width="0.15" stroke-opacity="0">EH</text>
<circle cx="306.42" cy="231.2" r="10.7" fill="#607f97" stroke="#222" stroke-width="1.7"/>
<text x="306.22" y="234.5" font-size="8.9" text-anchor="middle" font-weight="bold" fill="#f2f2f2" stroke="#f2f2f2" stroke-width="0.15" stroke-opacity="0">EH</text>
<circle cx="331.88" cy="231.2" r="10.7" fill="#587b97" stroke="#222" stroke-width="1.7"/>
<text x="331.68" y="234.5" font-size="8.9" text-anchor="middle" font-weight="bold" fill="#f2f2f2" stroke="#f2f2f2" stroke-width="0.15" stroke-opacity="0">EH</text>
<circle cx="357.34" cy="231.2" r="10.7" fill="#507797" stroke="#222" stroke-width="1.7"/>
<text x="357.14" y="234.5" font-size="8.9" text-anchor="middle" font-weight="bold" fill="#f2f2f2" stroke="#f2f2f2" stroke-width="0.15" stroke-opacity="0">EH</text>
<circle cx="382.8" cy="231.2" r="10.7" fill="#477396" stroke="#222" stroke-width="1.7"/>
<text x="382.6" y="234.5" font-size="8.9" text-anchor="middle" font-weight="bold" fill="#f2f2f2" stroke="#f2f2f2" stroke-width="0.15" stroke-opacity="0">EH</text>
<circle cx="408.26" cy="231.2" r="10.7" fill="#3f6f96" stroke="#222" stroke-width="1.7"/>
<text x="408.06" y="234.5" font-size="8.9" text-anchor="middle" font-weight="bold" fill="#f2f2f2" stroke="#f2f2f2" stroke-width="0.15" stroke-opacity="0">EH</text>
<circle cx="128.2" cy="256.6" r="10.7" fill="#9a9a9a" stroke="#222" stroke-width="1.7"/>
<circle cx="153.66" cy="256.6" r="10.7" fill="#92969a" stroke="#222" stroke-width="1.7"/>
<circle cx="179.12" cy="256.6" r="10.7" fill="#899299" stroke="#222" stroke-width="1.7"/>
<circle cx="204.58" cy="256.6" r="10.7" fill="#818e99" stroke="#222" stroke-width="1.7"/>
<circle cx="230.04" cy="256.6" r="10.7" fill="#798a99" stroke="#222" stroke-width="1.7"/>
<circle cx="255.5" cy="256.6" r="10.7" fill="#718698" stroke="#222" stroke-width="1.7"/>
<circle cx="280.96" cy="256.6" r="10.7" fill="#688398" stroke="#222" stroke-width="1.7"/>
<circle cx="306.42" cy="256.6" r="10.7" fill="#607f97" stroke="#222" stroke-width="1.7"/>
<circle cx="331.88" cy="256.6" r="10.7" fill="#587b97" stroke="#222" stroke-width="1.7"/>
<circle cx="357.34" cy="256.6" r="10.7" fill="#507797" stroke="#222" stroke-width="1.7"/>
<circle cx="382.8" cy="256.6" r="10.7" fill="#477396" stroke="#222" stroke-width="1.7"/>
<circle cx="408.26" cy="256.6" r="10.7" fill="#3f6f96" stroke="#222" stroke-width="1.7"/>
<circle cx="128.2" cy="282.1" r="10.7" fill="#9a9a9a" stroke="#222" stroke-width="1.7"/>
<text x="128" y="285.4" font-size="8.9" text-anchor="middle" font-weight="bold" fill="#f2f2f2" stroke="#f2f2f2" stroke-width="0.15" stroke-opacity="0">TH</text>
<circle cx="153.66" cy="282.1" r="10.7" fill="#92969a" stroke="#222" stroke-width="1.7"/>
<text x="153.46" y="285.4" font-size="8.9" text-anchor="middle" font-weight="bold" fill="#f2f2f2" stroke="#f2f2f2" stroke-width="0.15" stroke-opacity="0">TH</text>
<circle cx="179.12" cy="282.1" r="10.7" fill="#899299" stroke="#222" stroke-width="1.7"/>
<text x="178.92" y="285.4" font-size="8.9" text-anchor="middle" font-weight="bold" fill="#f2f2f2" stroke="#f2f2f2" stroke-width="0.15" stroke-opacity="0">TH</text>
<circle cx="204.58" cy="282.1" r="10.7" fill="#818e99" stroke="#222" stroke-width="1.7"/>
<text x="204.38" y="285.4" font-size="8.9" text-anchor="middle" font-weight="bold" fill="#f2f2f2" stroke="#f2f2f2" stroke-width="0.15" stroke-opacity="0">TH</text>
<circle cx="230.04" cy="282.1" r="10.7" fill="#798a99" stroke="#222" stroke-width="1.7"/>
<text x="229.84" y="285.4" font-size="8.9" text-anchor="middle" font-weight="bold" fill="#f2f2f2" stroke="#f2f2f2" stroke-width="0.15" stroke-opacity="0">TH</text>
<circle cx="255.5" cy="282.1" r="10.7" fill="#718698" stroke="#222" stroke-width="1.7"/>
<text x="255.3" y="285.4" font-size="8.9" text-anchor="middle" font-weight="bold" fill="#f2f2f2" stroke="#f2f2f2" stroke-width="0.15" stroke-opacity="0">TH</text>
<circle cx="280.96" cy="282.1" r="10.7" fill="#688398" stroke="#222" stroke-width="1.7"/>
<text x="280.76" y="285.4" font-size="8.9" text-anchor="middle" font-weight="bold" fill="#f2f2f2" stroke="#f2f2f2" stroke-width="0.15" stroke-opacity="0">TH</text>
<circle cx="306.42" cy="282.1" r="10.7" fill="#607f97" stroke="#222" stroke-width="1.7"/>
<text x="306.22" y="285.4" font-size="8.9" text-anchor="middle" font-weight="bold" fill="#f2f2f2" stroke="#f2f2f2" stroke-width="0.15" stroke-opacity="0">TH</text>
<circle cx="331.88" cy="282.1" r="10.7" fill="#587b97" stroke="#222" stroke-width="1.7"/>
<text x="331.68" y="285.4" font-size="8.9" text-anchor="middle" font-weight="bold" fill="#f2f2f2" stroke="#f2f2f2" stroke-width="0.15" stroke-opacity="0">TH</text>
<circle cx="357.34" cy="282.1" r="10.7" fill="#507797" stroke="#222" stroke-width="1.7"/>
<text x="357.14" y="285.4" font-size="8.9" text-anchor="middle" font-weight="bold" fill="#f2f2f2" stroke="#f2f2f2" stroke-width="0.15" stroke-opacity="0">TH</text>
<circle cx="382.8" cy="282.1" r="10.7" fill="#477396" stroke="#222" stroke-width="1.7"/>
<text x="382.6" y="285.4" font-size="8.9" text-anchor="middle" font-weight="bold" fill="#f2f2f2" stroke="#f2f2f2" stroke-width="0.15" stroke-opacity="0">TH</text>
<circle cx="408.26" cy="282.1" r="10.7" fill="#3f6f96" stroke="#222" stroke-width="1.7"/>
<text x="408.06" y="285.4" font-size="8.9" text-anchor="middle" font-weight="bold" fill="#f2f2f2" stroke="#f2f2f2" stroke-width="0.15" stroke-opacity="0">TH</text>
<line x1="129.7" y1="205.6" x2="146.16" y2="205.6" stroke="#2a2a2a" stroke-width="2.8"/>
<line x1="129.7" y1="205.6" x2="146.16" y2="205.6" stroke="#5a5a5a" stroke-width="1"/>
<polygon points="145.96,201.2 153.66,205.6 145.96,210" fill="#fff" stroke="#222" stroke-width="1"/>
<line x1="155.16" y1="205.6" x2="171.62" y2="205.6" stroke="#2a2a2a" stroke-width="2.8"/>
<line x1="155.16" y1="205.6" x2="171.62" y2="205.6" stroke="#5a5a5a" stroke-width="1"/>
<polygon points="171.42,201.2 179.12,205.6 171.42,210" fill="#fff" stroke="#222" stroke-width="1"/>
<line x1="180.62" y1="205.6" x2="197.08" y2="205.6" stroke="#2a2a2a" stroke-width="2.8"/>
<line x1="180.62" y1="205.6" x2="197.08" y2="205.6" stroke="#5a5a5a" stroke-width="1"/>
<polygon points="196.88,201.2 204.58,205.6 196.88,210" fill="#fff" stroke="#222" stroke-width="1"/>
<line x1="206.08" y1="205.6" x2="222.54" y2="205.6" stroke="#2a2a2a" stroke-width="2.8"/>
<line x1="206.08" y1="205.6" x2="222.54" y2="205.6" stroke="#5a5a5a" stroke-width="1"/>
<polygon points="222.34,201.2 230.04,205.6 222.34,210" fill="#fff" stroke="#222" stroke-width="1"/>
<line x1="231.54" y1="205.6" x2="248" y2="205.6" stroke="#2a2a2a" stroke-width="2.8"/>
<line x1="231.54" y1="205.6" x2="248" y2="205.6" stroke="#5a5a5a" stroke-width="1"/>
<polygon points="247.8,201.2 255.5,205.6 247.8,210" fill="#fff" stroke="#222" stroke-width="1"/>
<line x1="257" y1="205.6" x2="273.46" y2="205.6" stroke="#2a2a2a" stroke-width="2.8"/>
<line x1="257" y1="205.6" x2="273.46" y2="205.6" stroke="#5a5a5a" stroke-width="1"/>
<polygon points="273.26,201.2 280.96,205.6 273.26,210" fill="#fff" stroke="#222" stroke-width="1"/>
<line x1="282.46" y1="205.6" x2="298.92" y2="205.6" stroke="#2a2a2a" stroke-width="2.8"/>
<line x1="282.46" y1="205.6" x2="298.92" y2="205.6" stroke="#5a5a5a" stroke-width="1"/>
<polygon points="298.72,201.2 306.42,205.6 298.72,210" fill="#fff" stroke="#222" stroke-width="1"/>
<line x1="307.92" y1="205.6" x2="324.38" y2="205.6" stroke="#2a2a2a" stroke-width="2.8"/>
<line x1="307.92" y1="205.6" x2="324.38" y2="205.6" stroke="#5a5a5a" stroke-width="1"/>
<polygon points="324.18,201.2 331.88,205.6 324.18,210" fill="#fff" stroke="#222" stroke-width="1"/>
<line x1="333.38" y1="205.6" x2="349.84" y2="205.6" stroke="#2a2a2a" stroke-width="2.8"/>
<line x1="333.38" y1="205.6" x2="349.84" y2="205.6" stroke="#5a5a5a" stroke-width="1"/>
<polygon points="349.64,201.2 357.34,205.6 349.64,210" fill="#fff" stroke="#222" stroke-width="1"/>
<line x1="358.84" y1="205.6" x2="375.3" y2="205.6" stroke="#2a2a2a" stroke-width="2.8"/>
<line x1="358.84" y1="205.6" x2="375.3" y2="205.6" stroke="#5a5a5a" stroke-width="1"/>
<polygon points="375.1,201.2 382.8,205.6 375.1,210" fill="#fff" stroke="#222" stroke-width="1"/>
<line x1="384.3" y1="205.6" x2="400.76" y2="205.6" stroke="#2a2a2a" stroke-width="2.8"/>
<line x1="384.3" y1="205.6" x2="400.76" y2="205.6" stroke="#5a5a5a" stroke-width="1"/>
<polygon points="400.56,201.2 408.26,205.6 400.56,210" fill="#fff" stroke="#222" stroke-width="1"/>
<line x1="130.7" y1="208.6" x2="141.67" y2="219.31" stroke="#1a1a1a" stroke-width="3.4"/>
<line x1="131.27" y1="209.16" x2="141.67" y2="219.31" stroke="#fff" stroke-width="1.2"/>
<polygon points="138.32,222.75 147.4,224.9 145.03,215.88" fill="#fff" stroke="#222" stroke-width="1"/>
<line x1="156.16" y1="208.6" x2="167.13" y2="219.31" stroke="#1a1a1a" stroke-width="3.4"/>
<line x1="156.73" y1="209.16" x2="167.13" y2="219.31" stroke="#fff" stroke-width="1.2"/>
<polygon points="163.78,222.75 172.86,224.9 170.49,215.88" fill="#fff" stroke="#222" stroke-width="1"/>
<line x1="181.62" y1="208.6" x2="192.59" y2="219.31" stroke="#1a1a1a" stroke-width="3.4"/>
<line x1="182.19" y1="209.16" x2="192.59" y2="219.31" stroke="#fff" stroke-width="1.2"/>
<polygon points="189.24,222.75 198.32,224.9 195.95,215.88" fill="#fff" stroke="#222" stroke-width="1"/>
<line x1="207.08" y1="208.6" x2="218.05" y2="219.31" stroke="#1a1a1a" stroke-width="3.4"/>
<line x1="207.65" y1="209.16" x2="218.05" y2="219.31" stroke="#fff" stroke-width="1.2"/>
<polygon points="214.7,222.75 223.78,224.9 221.41,215.88" fill="#fff" stroke="#222" stroke-width="1"/>
<line x1="232.54" y1="208.6" x2="243.51" y2="219.31" stroke="#1a1a1a" stroke-width="3.4"/>
<line x1="233.11" y1="209.16" x2="243.51" y2="219.31" stroke="#fff" stroke-width="1.2"/>
<polygon points="240.16,222.75 249.24,224.9 246.87,215.88" fill="#fff" stroke="#222" stroke-width="1"/>
<line x1="258" y1="208.6" x2="268.97" y2="219.31" stroke="#1a1a1a" stroke-width="3.4"/>
<line x1="258.57" y1="209.16" x2="268.97" y2="219.31" stroke="#fff" stroke-width="1.2"/>
<polygon points="265.62,222.75 274.7,224.9 272.33,215.88" fill="#fff" stroke="#222" stroke-width="1"/>
<line x1="283.46" y1="208.6" x2="294.43" y2="219.31" stroke="#1a1a1a" stroke-width="3.4"/>
<line x1="284.03" y1="209.16" x2="294.43" y2="219.31" stroke="#fff" stroke-width="1.2"/>
<polygon points="291.08,222.75 300.16,224.9 297.79,215.88" fill="#fff" stroke="#222" stroke-width="1"/>
<line x1="308.92" y1="208.6" x2="319.89" y2="219.31" stroke="#1a1a1a" stroke-width="3.4"/>
<line x1="309.49" y1="209.16" x2="319.89" y2="219.31" stroke="#fff" stroke-width="1.2"/>
<polygon points="316.54,222.75 325.62,224.9 323.25,215.88" fill="#fff" stroke="#222" stroke-width="1"/>
<line x1="334.38" y1="208.6" x2="345.35" y2="219.31" stroke="#1a1a1a" stroke-width="3.4"/>
<line x1="334.95" y1="209.16" x2="345.35" y2="219.31" stroke="#fff" stroke-width="1.2"/>
<polygon points="342,222.75 351.08,224.9 348.71,215.88" fill="#fff" stroke="#222" stroke-width="1"/>
<line x1="359.84" y1="208.6" x2="370.81" y2="219.31" stroke="#1a1a1a" stroke-width="3.4"/>
<line x1="360.41" y1="209.16" x2="370.81" y2="219.31" stroke="#fff" stroke-width="1.2"/>
<polygon points="367.46,222.75 376.54,224.9 374.17,215.88" fill="#fff" stroke="#222" stroke-width="1"/>
<line x1="385.3" y1="208.6" x2="396.27" y2="219.31" stroke="#1a1a1a" stroke-width="3.4"/>
<line x1="385.87" y1="209.16" x2="396.27" y2="219.31" stroke="#fff" stroke-width="1.2"/>
<polygon points="392.92,222.75 402,224.9 399.63,215.88" fill="#fff" stroke="#222" stroke-width="1"/>
<line x1="129.7" y1="256.6" x2="146.16" y2="256.6" stroke="#2a2a2a" stroke-width="2.8"/>
<line x1="129.7" y1="256.6" x2="146.16" y2="256.6" stroke="#5a5a5a" stroke-width="1"/>
<polygon points="145.96,252.2 153.66,256.6 145.96,261" fill="#fff" stroke="#222" stroke-width="1"/>
<line x1="155.16" y1="256.6" x2="171.62" y2="256.6" stroke="#2a2a2a" stroke-width="2.8"/>
<line x1="155.16" y1="256.6" x2="171.62" y2="256.6" stroke="#5a5a5a" stroke-width="1"/>
<polygon points="171.42,252.2 179.12,256.6 171.42,261" fill="#fff" stroke="#222" stroke-width="1"/>
<line x1="180.62" y1="256.6" x2="197.08" y2="256.6" stroke="#2a2a2a" stroke-width="2.8"/>
<line x1="180.62" y1="256.6" x2="197.08" y2="256.6" stroke="#5a5a5a" stroke-width="1"/>
<polygon points="196.88,252.2 204.58,256.6 196.88,261" fill="#fff" stroke="#222" stroke-width="1"/>
<line x1="206.08" y1="256.6" x2="222.54" y2="256.6" stroke="#2a2a2a" stroke-width="2.8"/>
<line x1="206.08" y1="256.6" x2="222.54" y2="256.6" stroke="#5a5a5a" stroke-width="1"/>
<polygon points="222.34,252.2 230.04,256.6 222.34,261" fill="#fff" stroke="#222" stroke-width="1"/>
<line x1="231.54" y1="256.6" x2="248" y2="256.6" stroke="#2a2a2a" stroke-width="2.8"/>
<line x1="231.54" y1="256.6" x2="248" y2="256.6" stroke="#5a5a5a" stroke-width="1"/>
<polygon points="247.8,252.2 255.5,256.6 247.8,261" fill="#fff" stroke="#222" stroke-width="1"/>
<line x1="257" y1="256.6" x2="273.46" y2="256.6" stroke="#2a2a2a" stroke-width="2.8"/>
<line x1="257" y1="256.6" x2="273.46" y2="256.6" stroke="#5a5a5a" stroke-width="1"/>
<polygon points="273.26,252.2 280.96,256.6 273.26,261" fill="#fff" stroke="#222" stroke-width="1"/>
<line x1="282.46" y1="256.6" x2="298.92" y2="256.6" stroke="#2a2a2a" stroke-width="2.8"/>
<line x1="282.46" y1="256.6" x2="298.92" y2="256.6" stroke="#5a5a5a" stroke-width="1"/>
<polygon points="298.72,252.2 306.42,256.6 298.72,261" fill="#fff" stroke="#222" stroke-width="1"/>
<line x1="307.92" y1="256.6" x2="324.38" y2="256.6" stroke="#2a2a2a" stroke-width="2.8"/>
<line x1="307.92" y1="256.6" x2="324.38" y2="256.6" stroke="#5a5a5a" stroke-width="1"/>
<polygon points="324.18,252.2 331.88,256.6 324.18,261" fill="#fff" stroke="#222" stroke-width="1"/>
<line x1="333.38" y1="256.6" x2="349.84" y2="256.6" stroke="#2a2a2a" stroke-width="2.8"/>
<line x1="333.38" y1="256.6" x2="349.84" y2="256.6" stroke="#5a5a5a" stroke-width="1"/>
<polygon points="349.64,252.2 357.34,256.6 349.64,261" fill="#fff" stroke="#222" stroke-width="1"/>
<line x1="358.84" y1="256.6" x2="375.3" y2="256.6" stroke="#2a2a2a" stroke-width="2.8"/>
<line x1="358.84" y1="256.6" x2="375.3" y2="256.6" stroke="#5a5a5a" stroke-width="1"/>
<polygon points="375.1,252.2 382.8,256.6 375.1,261" fill="#fff" stroke="#222" stroke-width="1"/>
<line x1="384.3" y1="256.6" x2="400.76" y2="256.6" stroke="#2a2a2a" stroke-width="2.8"/>
<line x1="384.3" y1="256.6" x2="400.76" y2="256.6" stroke="#5a5a5a" stroke-width="1"/>
<polygon points="400.56,252.2 408.26,256.6 400.56,261" fill="#fff" stroke="#222" stroke-width="1"/>
<line x1="130.7" y1="259.6" x2="141.67" y2="270.31" stroke="#1a1a1a" stroke-width="3.4"/>
<line x1="131.27" y1="260.16" x2="141.67" y2="270.31" stroke="#fff" stroke-width="1.2"/>
<polygon points="138.32,273.75 147.4,275.9 145.03,266.88" fill="#fff" stroke="#222" stroke-width="1"/>
<line x1="156.16" y1="259.6" x2="167.13" y2="270.31" stroke="#1a1a1a" stroke-width="3.4"/>
<line x1="156.73" y1="260.16" x2="167.13" y2="270.31" stroke="#fff" stroke-width="1.2"/>
<polygon points="163.78,273.75 172.86,275.9 170.49,266.88" fill="#fff" stroke="#222" stroke-width="1"/>
<line x1="181.62" y1="259.6" x2="192.59" y2="270.31" stroke="#1a1a1a" stroke-width="3.4"/>
<line x1="182.19" y1="260.16" x2="192.59" y2="270.31" stroke="#fff" stroke-width="1.2"/>
<polygon points="189.24,273.75 198.32,275.9 195.95,266.88" fill="#fff" stroke="#222" stroke-width="1"/>
<line x1="207.08" y1="259.6" x2="218.05" y2="270.31" stroke="#1a1a1a" stroke-width="3.4"/>
<line x1="207.65" y1="260.16" x2="218.05" y2="270.31" stroke="#fff" stroke-width="1.2"/>
<polygon points="214.7,273.75 223.78,275.9 221.41,266.88" fill="#fff" stroke="#222" stroke-width="1"/>
<line x1="232.54" y1="259.6" x2="243.51" y2="270.31" stroke="#1a1a1a" stroke-width="3.4"/>
<line x1="233.11" y1="260.16" x2="243.51" y2="270.31" stroke="#fff" stroke-width="1.2"/>
<polygon points="240.16,273.75 249.24,275.9 246.87,266.88" fill="#fff" stroke="#222" stroke-width="1"/>
<line x1="258" y1="259.6" x2="268.97" y2="270.31" stroke="#1a1a1a" stroke-width="3.4"/>
<line x1="258.57" y1="260.16" x2="268.97" y2="270.31" stroke="#fff" stroke-width="1.2"/>
<polygon points="265.62,273.75 274.7,275.9 272.33,266.88" fill="#fff" stroke="#222" stroke-width="1"/>
<line x1="283.46" y1="259.6" x2="294.43" y2="270.31" stroke="#1a1a1a" stroke-width="3.4"/>
<line x1="284.03" y1="260.16" x2="294.43" y2="270.31" stroke="#fff" stroke-width="1.2"/>
<polygon points="291.08,273.75 300.16,275.9 297.79,266.88" fill="#fff" stroke="#222" stroke-width="1"/>
<line x1="308.92" y1="259.6" x2="319.89" y2="270.31" stroke="#1a1a1a" stroke-width="3.4"/>
<line x1="309.49" y1="260.16" x2="319.89" y2="270.31" stroke="#fff" stroke-width="1.2"/>
<polygon points="316.54,273.75 325.62,275.9 323.25,266.88" fill="#fff" stroke="#222" stroke-width="1"/>
<line x1="334.38" y1="259.6" x2="345.35" y2="270.31" stroke="#1a1a1a" stroke-width="3.4"/>
<line x1="334.95" y1="260.16" x2="345.35" y2="270.31" stroke="#fff" stroke-width="1.2"/>
<polygon points="342,273.75 351.08,275.9 348.71,266.88" fill="#fff" stroke="#222" stroke-width="1"/>
<line x1="359.84" y1="259.6" x2="370.81" y2="270.31" stroke="#1a1a1a" stroke-width="3.4"/>
<line x1="360.41" y1="260.16" x2="370.81" y2="270.31" stroke="#fff" stroke-width="1.2"/>
<polygon points="367.46,273.75 376.54,275.9 374.17,266.88" fill="#fff" stroke="#222" stroke-width="1"/>
<line x1="385.3" y1="259.6" x2="396.27" y2="270.31" stroke="#1a1a1a" stroke-width="3.4"/>
<line x1="385.87" y1="260.16" x2="396.27" y2="270.31" stroke="#fff" stroke-width="1.2"/>
<polygon points="392.92,273.75 402,275.9 399.63,266.88" fill="#fff" stroke="#222" stroke-width="1"/>
<line x1="75.4" y1="311.2" x2="75.4" y2="434.6" stroke="#d2d2d2" stroke-width="1.2"/>
<line x1="114.04" y1="311.2" x2="114.04" y2="434.6" stroke="#d2d2d2" stroke-width="1.2"/>
<line x1="152.68" y1="311.2" x2="152.68" y2="434.6" stroke="#d2d2d2" stroke-width="1.2"/>
<line x1="191.32" y1="311.2" x2="191.32" y2="434.6" stroke="#d2d2d2" stroke-width="1.2"/>
<line x1="229.96" y1="311.2" x2="229.96" y2="434.6" stroke="#d2d2d2" stroke-width="1.2"/>
<line x1="268.6" y1="311.2" x2="268.6" y2="434.6" stroke="#d2d2d2" stroke-width="1.2"/>
<line x1="307.24" y1="311.2" x2="307.24" y2="434.6" stroke="#d2d2d2" stroke-width="1.2"/>
<line x1="345.88" y1="311.2" x2="345.88" y2="434.6" stroke="#d2d2d2" stroke-width="1.2"/>
<line x1="384.52" y1="311.2" x2="384.52" y2="434.6" stroke="#d2d2d2" stroke-width="1.2"/>
<line x1="423.16" y1="311.2" x2="423.16" y2="434.6" stroke="#d2d2d2" stroke-width="1.2"/>
<line x1="461.8" y1="311.2" x2="461.8" y2="434.6" stroke="#d2d2d2" stroke-width="1.2"/>
<line x1="500.44" y1="311.2" x2="500.44" y2="434.6" stroke="#d2d2d2" stroke-width="1.2"/>
<line x1="37" y1="399.34" x2="539.2" y2="399.34" stroke="#d2d2d2" stroke-width="1.2"/>
<line x1="37" y1="364.09" x2="539.2" y2="364.09" stroke="#d2d2d2" stroke-width="1.2"/>
<line x1="37" y1="328.83" x2="539.2" y2="328.83" stroke="#d2d2d2" stroke-width="1.2"/>
<defs><pattern id="hatch" patternUnits="userSpaceOnUse" width="5.5" height="5.5" patternTransform="rotate(45)"><rect width="5.5" height="5.5" fill="PATFILL"/><line x1="0" y1="0" x2="0" y2="5.5" stroke="#111" stroke-width="2.4"/></pattern></defs>
<rect x="220.31" y="420.85" width="8.4" height="13.75" fill="#7c90a2" stroke="#111" stroke-width="1.7"/>
<rect x="231.21" y="397.65" width="8.4" height="36.95" fill="url(#h4)" stroke="#111" stroke-width="1.7"/>
<line x1="224.51" y1="419.6" x2="224.51" y2="421.8" stroke="#111" stroke-width="1.5"/>
<line x1="220.51" y1="419.6" x2="228.51" y2="419.6" stroke="#111" stroke-width="1.5"/>
<line x1="220.51" y1="421.8" x2="228.51" y2="421.8" stroke="#111" stroke-width="1.5"/>
<line x1="235.41" y1="394.5" x2="235.41" y2="400" stroke="#111" stroke-width="1.5"/>
<line x1="231.41" y1="394.5" x2="239.41" y2="394.5" stroke="#111" stroke-width="1.5"/>
<line x1="231.41" y1="400" x2="239.41" y2="400" stroke="#111" stroke-width="1.5"/>
<rect x="258.95" y="383.75" width="8.4" height="50.85" fill="#738ba1" stroke="#111" stroke-width="1.7"/>
<rect x="269.85" y="354.75" width="8.4" height="79.85" fill="url(#h5)" stroke="#111" stroke-width="1.7"/>
<line x1="263.15" y1="380.7" x2="263.15" y2="385" stroke="#111" stroke-width="1.5"/>
<line x1="259.15" y1="380.7" x2="267.15" y2="380.7" stroke="#111" stroke-width="1.5"/>
<line x1="259.15" y1="385" x2="267.15" y2="385" stroke="#111" stroke-width="1.5"/>
<line x1="274.05" y1="348.7" x2="274.05" y2="359" stroke="#111" stroke-width="1.5"/>
<line x1="270.05" y1="348.7" x2="278.05" y2="348.7" stroke="#111" stroke-width="1.5"/>
<line x1="270.05" y1="359" x2="278.05" y2="359" stroke="#111" stroke-width="1.5"/>
<rect x="297.59" y="374.75" width="8.4" height="59.85" fill="#6a869f" stroke="#111" stroke-width="1.7"/>
<rect x="308.49" y="359.25" width="8.4" height="75.35" fill="url(#h6)" stroke="#111" stroke-width="1.7"/>
<rect x="336.23" y="348.25" width="8.4" height="86.35" fill="#61819e" stroke="#111" stroke-width="1.7"/>
<rect x="347.13" y="335.05" width="8.4" height="99.55" fill="url(#h7)" stroke="#111" stroke-width="1.7"/>
<line x1="340.43" y1="342.2" x2="340.43" y2="353.2" stroke="#111" stroke-width="1.5"/>
<line x1="336.43" y1="342.2" x2="344.43" y2="342.2" stroke="#111" stroke-width="1.5"/>
<line x1="336.43" y1="353.2" x2="344.43" y2="353.2" stroke="#111" stroke-width="1.5"/>
<line x1="351.33" y1="324.7" x2="351.33" y2="342.9" stroke="#111" stroke-width="1.5"/>
<line x1="347.33" y1="324.7" x2="355.33" y2="324.7" stroke="#111" stroke-width="1.5"/>
<line x1="347.33" y1="342.9" x2="355.33" y2="342.9" stroke="#111" stroke-width="1.5"/>
<rect x="374.87" y="356.05" width="8.4" height="78.55" fill="#597d9c" stroke="#111" stroke-width="1.7"/>
<rect x="385.77" y="332.85" width="8.4" height="101.75" fill="url(#h8)" stroke="#111" stroke-width="1.7"/>
<line x1="379.07" y1="338" x2="379.07" y2="372.6" stroke="#111" stroke-width="1.5"/>
<line x1="375.07" y1="338" x2="383.07" y2="338" stroke="#111" stroke-width="1.5"/>
<line x1="375.07" y1="372.6" x2="383.07" y2="372.6" stroke="#111" stroke-width="1.5"/>
<line x1="389.97" y1="332.2" x2="389.97" y2="334.2" stroke="#111" stroke-width="1.5"/>
<line x1="385.97" y1="332.2" x2="393.97" y2="332.2" stroke="#111" stroke-width="1.5"/>
<line x1="385.97" y1="334.2" x2="393.97" y2="334.2" stroke="#111" stroke-width="1.5"/>
<rect x="413.51" y="344.95" width="8.4" height="89.65" fill="#50789b" stroke="#111" stroke-width="1.7"/>
<rect x="424.41" y="338.75" width="8.4" height="95.85" fill="url(#h9)" stroke="#111" stroke-width="1.7"/>
<line x1="417.71" y1="341.4" x2="417.71" y2="347.9" stroke="#111" stroke-width="1.5"/>
<line x1="413.71" y1="341.4" x2="421.71" y2="341.4" stroke="#111" stroke-width="1.5"/>
<line x1="413.71" y1="347.9" x2="421.71" y2="347.9" stroke="#111" stroke-width="1.5"/>
<rect x="452.15" y="363.05" width="8.4" height="71.55" fill="#477399" stroke="#111" stroke-width="1.7"/>
<rect x="463.05" y="359.55" width="8.4" height="75.05" fill="url(#h10)" stroke="#111" stroke-width="1.7"/>
<line x1="456.35" y1="356.1" x2="456.35" y2="368.6" stroke="#111" stroke-width="1.5"/>
<line x1="452.35" y1="356.1" x2="460.35" y2="356.1" stroke="#111" stroke-width="1.5"/>
<line x1="452.35" y1="368.6" x2="460.35" y2="368.6" stroke="#111" stroke-width="1.5"/>
<rect x="490.79" y="357.75" width="8.4" height="76.85" fill="#3e6e98" stroke="#111" stroke-width="1.7"/>
<rect x="501.69" y="378.75" width="8.4" height="55.85" fill="url(#h11)" stroke="#111" stroke-width="1.7"/>
<line x1="494.99" y1="355.3" x2="494.99" y2="359.4" stroke="#111" stroke-width="1.5"/>
<line x1="490.99" y1="355.3" x2="498.99" y2="355.3" stroke="#111" stroke-width="1.5"/>
<line x1="490.99" y1="359.4" x2="498.99" y2="359.4" stroke="#111" stroke-width="1.5"/>
<line x1="75.4" y1="434.6" x2="75.4" y2="429.6" stroke="#262626" stroke-width="1"/>
<line x1="75.4" y1="311.2" x2="75.4" y2="316.2" stroke="#262626" stroke-width="1"/>
<line x1="114.04" y1="434.6" x2="114.04" y2="429.6" stroke="#262626" stroke-width="1"/>
<line x1="114.04" y1="311.2" x2="114.04" y2="316.2" stroke="#262626" stroke-width="1"/>
<line x1="152.68" y1="434.6" x2="152.68" y2="429.6" stroke="#262626" stroke-width="1"/>
<line x1="152.68" y1="311.2" x2="152.68" y2="316.2" stroke="#262626" stroke-width="1"/>
<line x1="191.32" y1="434.6" x2="191.32" y2="429.6" stroke="#262626" stroke-width="1"/>
<line x1="191.32" y1="311.2" x2="191.32" y2="316.2" stroke="#262626" stroke-width="1"/>
<line x1="229.96" y1="434.6" x2="229.96" y2="429.6" stroke="#262626" stroke-width="1"/>
<line x1="229.96" y1="311.2" x2="229.96" y2="316.2" stroke="#262626" stroke-width="1"/>
<line x1="268.6" y1="434.6" x2="268.6" y2="429.6" stroke="#262626" stroke-width="1"/>
<line x1="268.6" y1="311.2" x2="268.6" y2="316.2" stroke="#262626" stroke-width="1"/>
<line x1="307.24" y1="434.6" x2="307.24" y2="429.6" stroke="#262626" stroke-width="1"/>
<line x1="307.24" y1="311.2" x2="307.24" y2="316.2" stroke="#262626" stroke-width="1"/>
<line x1="345.88" y1="434.6" x2="345.88" y2="429.6" stroke="#262626" stroke-width="1"/>
<line x1="345.88" y1="311.2" x2="345.88" y2="316.2" stroke="#262626" stroke-width="1"/>
<line x1="384.52" y1="434.6" x2="384.52" y2="429.6" stroke="#262626" stroke-width="1"/>
<line x1="384.52" y1="311.2" x2="384.52" y2="316.2" stroke="#262626" stroke-width="1"/>
<line x1="423.16" y1="434.6" x2="423.16" y2="429.6" stroke="#262626" stroke-width="1"/>
<line x1="423.16" y1="311.2" x2="423.16" y2="316.2" stroke="#262626" stroke-width="1"/>
<line x1="461.8" y1="434.6" x2="461.8" y2="429.6" stroke="#262626" stroke-width="1"/>
<line x1="461.8" y1="311.2" x2="461.8" y2="316.2" stroke="#262626" stroke-width="1"/>
<line x1="500.44" y1="434.6" x2="500.44" y2="429.6" stroke="#262626" stroke-width="1"/>
<line x1="500.44" y1="311.2" x2="500.44" y2="316.2" stroke="#262626" stroke-width="1"/>
<line x1="37" y1="434.6" x2="42" y2="434.6" stroke="#262626" stroke-width="1"/>
<line x1="539.2" y1="434.6" x2="534.2" y2="434.6" stroke="#262626" stroke-width="1"/>
<line x1="37" y1="399.34" x2="42" y2="399.34" stroke="#262626" stroke-width="1"/>
<line x1="539.2" y1="399.34" x2="534.2" y2="399.34" stroke="#262626" stroke-width="1"/>
<line x1="37" y1="364.09" x2="42" y2="364.09" stroke="#262626" stroke-width="1"/>
<line x1="539.2" y1="364.09" x2="534.2" y2="364.09" stroke="#262626" stroke-width="1"/>
<line x1="37" y1="328.83" x2="42" y2="328.83" stroke="#262626" stroke-width="1"/>
<line x1="539.2" y1="328.83" x2="534.2" y2="328.83" stroke="#262626" stroke-width="1"/>
<rect x="37" y="311.2" width="502.2" height="123.4" fill="none" stroke="#262626" stroke-width="1.5"/>
<rect x="50.75" y="325.25" width="117.2" height="34.2" fill="#fff" stroke="#111" stroke-width="1.5"/>
<pattern id="hleg" patternUnits="userSpaceOnUse" width="4.2" height="4.2" patternTransform="rotate(45)"><rect width="4.2" height="4.2" fill="#b8b8b8"/><line x1="0" y1="-1" x2="0" y2="6" stroke="#111" stroke-width="2.6"/></pattern>
<rect x="55.25" y="328.75" width="32" height="11.2" fill="#adadad" stroke="#111" stroke-width="1.5"/>
<rect x="55.25" y="344.75" width="32" height="11.4" fill="url(#hleg)" stroke="#111" stroke-width="1.5"/>
<text x="90" y="339" font-size="11.8" text-anchor="start" font-weight="normal" fill="#111" stroke="#111" stroke-width="0.3" >Triggerpunkt</text>
<text x="90" y="354.1" font-size="11.8" text-anchor="start" font-weight="normal" fill="#111" stroke="#111" stroke-width="0.3" >Endpunkt</text>
<text x="28.2" y="439.6" font-size="11" text-anchor="end" font-weight="normal" fill="#111" stroke="#111" stroke-width="0.3" >0</text>
<text x="28.2" y="404.34" font-size="11" text-anchor="end" font-weight="normal" fill="#111" stroke="#111" stroke-width="0.3" >20</text>
<text x="28.2" y="369.09" font-size="11" text-anchor="end" font-weight="normal" fill="#111" stroke="#111" stroke-width="0.3" >40</text>
<text x="28.2" y="333.83" font-size="11" text-anchor="end" font-weight="normal" fill="#111" stroke="#111" stroke-width="0.3" >60</text>
<text x="74" y="449.4" font-size="11.9" text-anchor="middle" font-weight="normal" fill="#111" stroke="#111" stroke-width="0.3" >PC</text>
<text x="112.64" y="449.4" font-size="11.9" text-anchor="middle" font-weight="normal" fill="#111" stroke="#111" stroke-width="0.3" >1</text>
<text x="151.28" y="449.4" font-size="11.9" text-anchor="middle" font-weight="normal" fill="#111" stroke="#111" stroke-width="0.3" >2</text>
<text x="189.92" y="449.4" font-size="11.9" text-anchor="middle" font-weight="normal" fill="#111" stroke="#111" stroke-width="0.3" >3</text>
<text x="228.56" y="449.4" font-size="11.9" text-anchor="middle" font-weight="normal" fill="#111" stroke="#111" stroke-width="0.3" >4</text>
<text x="267.2" y="449.4" font-size="11.9" text-anchor="middle" font-weight="normal" fill="#111" stroke="#111" stroke-width="0.3" >5</text>
<text x="305.84" y="449.4" font-size="11.9" text-anchor="middle" font-weight="normal" fill="#111" stroke="#111" stroke-width="0.3" >6</text>
<text x="344.48" y="449.4" font-size="11.9" text-anchor="middle" font-weight="normal" fill="#111" stroke="#111" stroke-width="0.3" >7</text>
<text x="383.12" y="449.4" font-size="11.9" text-anchor="middle" font-weight="normal" fill="#111" stroke="#111" stroke-width="0.3" >8</text>
<text x="421.76" y="449.4" font-size="11.9" text-anchor="middle" font-weight="normal" fill="#111" stroke="#111" stroke-width="0.3" >9</text>
<text x="460.4" y="449.4" font-size="11.9" text-anchor="middle" font-weight="normal" fill="#111" stroke="#111" stroke-width="0.3" >10</text>
<text x="499.04" y="449.4" font-size="11.9" text-anchor="middle" font-weight="normal" fill="#111" stroke="#111" stroke-width="0.3" >11</text>
<text x="288.2" y="462.3" font-size="11.6" text-anchor="middle" font-weight="normal" fill="#111" stroke="#111" stroke-width="0.3" >Anzahl repetitiver Batches [-]</text>
<text transform="translate(9,373.2) rotate(-90)" font-size="11" text-anchor="middle" fill="#111" stroke="#111" stroke-width="0.3">Produkt [mM]</text>
</svg></body></html>
